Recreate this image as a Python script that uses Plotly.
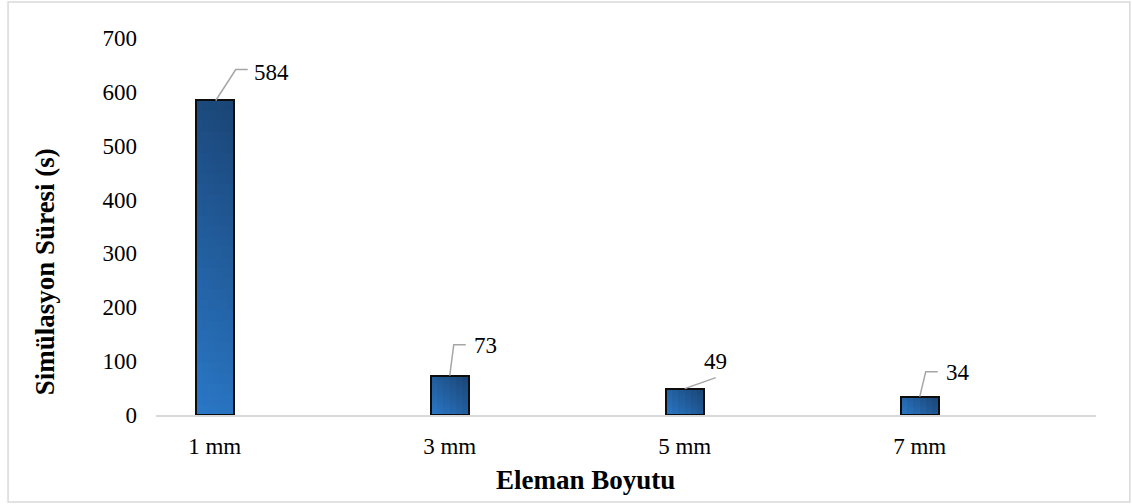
import plotly.graph_objects as go

# Simulation time per element size
categories = ["1 mm", "3 mm", "5 mm", "7 mm"]
sim_time_s = [584, 73, 49, 34]

FONT = "Liberation Serif"
DARK = (26, 68, 116)
LIGHT = (42, 120, 200)

BAR_SHIFT = 0.25   # bars sit in the left part of each category slot
BAR_WIDTH = 0.162
N_COL, N_ROW = 6, 30

# approximate on-screen size, used to keep the gradient angle at 45 degrees
BAR_PX = 38.0
PX_PER_UNIT = 377.0 / 700.0

xpos = [i + BAR_SHIFT for i in range(len(categories))]


def mix(t):
    r, g, b = (round(LIGHT[k] + (DARK[k] - LIGHT[k]) * t) for k in range(3))
    return f"rgb({r},{g},{b})"


# Diagonal gradient fill built from small cells inside each bar
cx, cbase, ch, cw, coff, ccol = [], [], [], [], [], []
for x, v in zip(xpos, sim_time_s):
    h_px = v * PX_PER_UNIT
    for c in range(N_COL):
        for r in range(N_ROW):
            u = (c + 0.5) / N_COL
            w = (r + 0.5) / N_ROW
            cx.append(x)
            cbase.append(v * r / N_ROW)
            ch.append(v / N_ROW * 1.02)
            cw.append(BAR_WIDTH / N_COL * 1.05)
            coff.append(-BAR_WIDTH / 2 + BAR_WIDTH * c / N_COL)
            ccol.append(mix((u * BAR_PX + w * h_px) / (BAR_PX + h_px)))

fig = go.Figure()
fig.add_trace(go.Bar(
    x=cx, y=ch, base=cbase, width=cw, offset=coff,
    marker=dict(color=ccol, line=dict(width=0)),
    hoverinfo="skip", showlegend=False,
))
# Bar outlines
fig.add_trace(go.Bar(
    x=xpos, y=sim_time_s, width=BAR_WIDTH,
    marker=dict(color="rgba(0,0,0,0)", line=dict(color="#0d0d0d", width=2)),
    showlegend=False,
))

# Data labels with leader lines (pixel offsets from the bar top)
label_shift = [(57, 28), (36, 30), (31, 27), (38, 24)]
leader_path = [
    "M 1,0 L 21,31 L 33,31",
    "M 0,0 L 4,31 L 16,31",
    "M 0,0 L 31,11",
    "M 0,0 L 6,25 L 18,25",
]
for x, v, (dx, dy), path in zip(xpos, sim_time_s, label_shift, leader_path):
    fig.add_annotation(
        x=x, y=v, text=str(v), showarrow=False,
        xanchor="center", yanchor="middle",
        xshift=dx, yshift=dy,
        font=dict(family=FONT, size=23, color="#000000"),
    )
    fig.add_shape(
        type="path", xref="x", yref="y",
        xsizemode="pixel", ysizemode="pixel",
        xanchor=x, yanchor=v, path=path,
        line=dict(color="#a6a6a6", width=1.5),
    )

# Axis titles
fig.add_annotation(
    x=0.4564, y=-0.172, xref="paper", yref="paper",
    xanchor="center", yanchor="middle",
    text="<b>Eleman Boyutu</b>", showarrow=False,
    font=dict(family=FONT, size=27, color="#000000"),
)
fig.add_annotation(
    x=-0.118, y=0.379, xref="paper", yref="paper",
    xanchor="center", yanchor="middle",
    text="<b>Simülasyon Süresi (s)</b>", showarrow=False, textangle=-90,
    font=dict(family=FONT, size=27, color="#000000"),
)

# Chart frame
fig.add_shape(
    type="rect", xref="paper", yref="paper",
    x0=-0.1574, x1=1.036, y0=-0.2308, y1=1.0955,
    line=dict(color="#d9d9d9", width=1.5), layer="below",
)

fig.update_layout(
    width=1132, height=504,
    margin=dict(l=156, r=36, t=38, b=89),
    paper_bgcolor="white", plot_bgcolor="white",
    barmode="overlay", bargap=0,
    font=dict(family=FONT, size=23, color="#000000"),
)
fig.update_xaxes(
    range=[0, len(categories)], tickvals=xpos, ticktext=categories,
    showgrid=False, zeroline=False, showline=True,
    linecolor="#d9d9d9", linewidth=1.5, ticks="", ticklabelstandoff=10,
    tickfont=dict(family=FONT, size=23, color="#000000"),
)
fig.update_yaxes(
    range=[0, 700], dtick=100, showgrid=False, zeroline=False,
    showline=False, ticks="", ticklabelstandoff=18,
    tickfont=dict(family=FONT, size=23, color="#000000"),
)

fig.write_html("out.html")
